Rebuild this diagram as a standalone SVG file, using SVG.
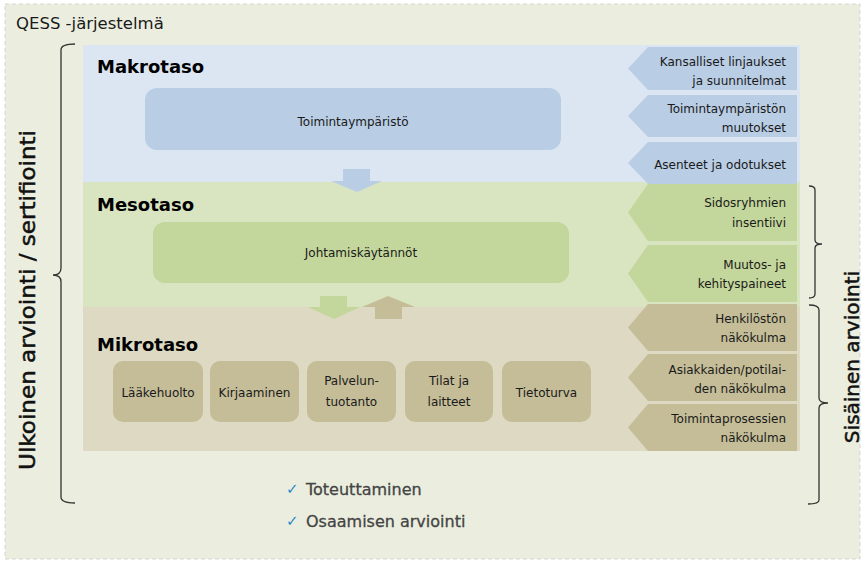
<svg xmlns="http://www.w3.org/2000/svg" width="864" height="563" viewBox="0 0 864 563">
<style>
text{font-family:"DejaVu Sans","Liberation Sans",sans-serif;fill:#1a1a1a}
.lvl{font-size:18px;font-weight:bold;fill:#000}
.t{font-size:12px}
.c{text-anchor:middle}
.r{text-anchor:end}
.blue{fill:#B9CDE5}
.green{fill:#C3D69B}
.tan{fill:#C4BD97}
.br{fill:none;stroke:#333;stroke-width:1.3}
.chk{font-size:16px;fill:#444;stroke:#444;stroke-width:0.3}
.tick{fill:#2E8BC9;font-size:15px;font-weight:bold}
.rot{fill:#111;stroke:#111;stroke-width:0.5}
</style>
<rect x="5" y="4" width="855" height="555" fill="#EBEEDF" stroke="#D4D6D0" stroke-width="1" stroke-dasharray="4,3"/>
<text x="16" y="29" font-size="16.5">QESS -järjestelmä</text>

<g id="bands">
<rect x="83" y="45" width="717" height="137" fill="#DCE6F2"/>
<rect x="83" y="182" width="717" height="125" fill="#D9E5C0"/>
<rect x="83" y="307" width="717" height="144" fill="#DDD9C3"/>
<text class="lvl" x="97" y="73">Makrotaso</text>
<text class="lvl" x="97" y="211">Mesotaso</text>
<text class="lvl" x="97" y="351">Mikrotaso</text>
</g>

<g id="connectors">
<polygon class="blue" points="343,169 370,169 370,181 382,181 357,192 331,181 343,181"/>
<polygon class="green" points="320,296 347,296 347,307 360,307 334,319 308,307 320,307"/>
<polygon class="tan" points="375,319 402,319 402,307 415,307 388,296 362,307 375,307"/>
</g>

<g id="toimintaymparisto">
<rect class="blue" x="145" y="88" width="416" height="62" rx="12"/>
<text class="t c" x="353" y="126">Toimintaympäristö</text>
</g>
<g id="johtamiskaytannot">
<rect class="green" x="153" y="222" width="416" height="61" rx="12"/>
<text class="t c" x="361" y="257">Johtamiskäytännöt</text>
</g>

<g id="laakehuolto"><rect class="tan" x="113" y="361" width="90" height="61" rx="10"/><text class="t c" x="158" y="397">Lääkehuolto</text></g>
<g id="kirjaaminen"><rect class="tan" x="210" y="361" width="89" height="61" rx="10"/><text class="t c" x="254.5" y="397">Kirjaaminen</text></g>
<g id="palveluntuotanto"><rect class="tan" x="307" y="361" width="89" height="61" rx="10"/><text class="t c" x="351.5" y="385">Palvelun-</text><text class="t c" x="351.5" y="406">tuotanto</text></g>
<g id="tilat"><rect class="tan" x="405" y="361" width="88" height="61" rx="10"/><text class="t c" x="449" y="385">Tilat ja</text><text class="t c" x="449" y="406">laitteet</text></g>
<g id="tietoturva"><rect class="tan" x="502" y="361" width="89" height="61" rx="10"/><text class="t c" x="546.5" y="397">Tietoturva</text></g>

<g id="kansalliset"><polygon class="blue" points="648,47 797,47 797,90 648,90 628,68.5"/><text class="t r" x="786" y="66">Kansalliset linjaukset</text><text class="t r" x="786" y="85">ja suunnitelmat</text></g>
<g id="muutokset"><polygon class="blue" points="648,95 797,95 797,137 648,137 628,116"/><text class="t r" x="786" y="113">Toimintaympäristön</text><text class="t r" x="786" y="132">muutokset</text></g>
<g id="asenteet"><polygon class="blue" points="648,142 797,142 797,184 648,184 628,163"/><text class="t r" x="786" y="169">Asenteet ja odotukset</text></g>
<g id="sidosryhmat"><polygon class="green" points="648,184 797,184 797,241 648,241 628,212.5"/><text class="t r" x="786" y="207">Sidosryhmien</text><text class="t r" x="786" y="227">insentiivi</text></g>
<g id="muutospaineet"><polygon class="green" points="648,245 797,245 797,302 648,302 628,273.5"/><text class="t r" x="786" y="269">Muutos- ja</text><text class="t r" x="786" y="288">kehityspaineet</text></g>
<g id="henkilosto"><polygon class="tan" points="648,304 797,304 797,351 648,351 628,327.5"/><text class="t r" x="786" y="323">Henkilöstön</text><text class="t r" x="786" y="342">näkökulma</text></g>
<g id="asiakkaat"><polygon class="tan" points="648,354 797,354 797,401 648,401 628,377.5"/><text class="t r" x="786" y="374">Asiakkaiden/potilai-</text><text class="t r" x="786" y="393">den näkökulma</text></g>
<g id="prosessit"><polygon class="tan" points="648,404 797,404 797,451 648,451 628,427.5"/><text class="t r" x="786" y="423">Toimintaprosessien</text><text class="t r" x="786" y="442">näkökulma</text></g>

<g id="ulkoinen">
<path class="br" d="M75,44 Q61,44 61,50 L61,268 Q61,275 53,275 Q61,275 61,282 L61,497 Q61,503 75,503"/>
<text class="rot" x="35" y="300" font-size="22" text-anchor="middle" transform="rotate(-90 35 300)" textLength="340" lengthAdjust="spacingAndGlyphs">Ulkoinen arviointi / sertifiointi</text>
</g>
<g id="sisainen">
<path class="br" d="M809,186 Q815,186 815,190 L815,240 Q815,244 822,244 Q815,244 815,248 L815,294 Q815,298 809,298"/>
<path class="br" d="M809,305 Q819,305 819,310 L819,398 Q819,403 828,403 Q819,403 819,408 L819,500 Q819,504 808,504"/>
<text class="rot" x="859" y="357" font-size="20" text-anchor="middle" transform="rotate(-90 859 357)">Sisäinen arviointi</text>
</g>

<g id="checklist">
<text class="tick" x="286" y="494">✓</text><text class="chk" x="306" y="495">Toteuttaminen</text>
<text class="tick" x="286" y="526">✓</text><text class="chk" x="306" y="527">Osaamisen arviointi</text>
</g>
</svg>
